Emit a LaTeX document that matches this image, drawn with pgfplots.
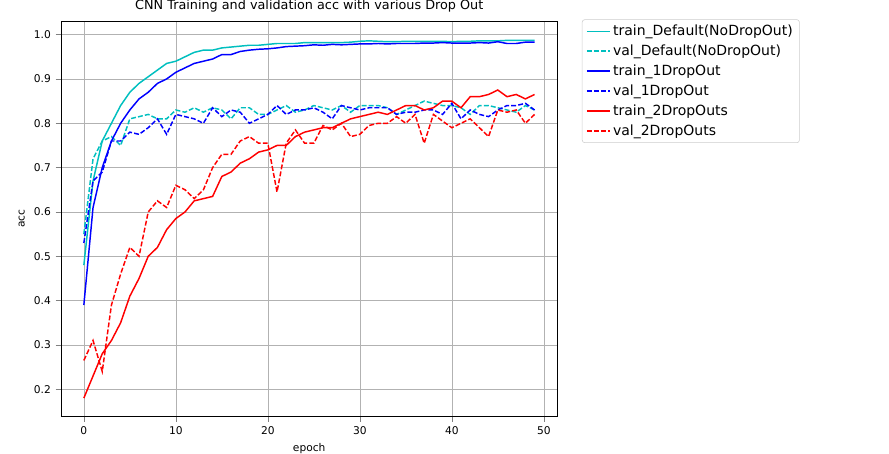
\documentclass[border=0pt]{standalone}
\usepackage{pgfplots}
\pgfplotsset{compat=1.18}
\usepackage{fontspec}
\setmainfont{DejaVu Sans}
\setsansfont{DejaVu Sans}
\definecolor{mc}{rgb}{0,0.75,0.75}
\tikzset{ds/.style={line width=1.1pt, dash pattern=on 3.7pt off 1.6pt}, sl/.style={line width=1.1pt}}
\begin{document}
\begin{tikzpicture}
\useasboundingbox (-46pt,-28pt) rectangle (621pt,312pt);
\begin{axis}[scale only axis, width=372pt, height=296pt,
xmin=-2.45, xmax=51.45, ymin=0.14, ymax=1.03,
xtick={0,10,20,30,40,50}, ytick={0.2,0.3,0.4,0.5,0.6,0.7,0.8,0.9,1.0},
yticklabel style={/pgf/number format/.cd,fixed,fixed zerofill,precision=1},
/pgf/number format/assume math mode=true,
ticklabel style={font=\fontsize{8}{9}\selectfont},
grid=major, grid style={gray!60},
tick align=outside, tick pos=left,
title={CNN Training and validation acc with various Drop Out}, title style={font=\fontsize{9.6}{11}\selectfont, yshift=-3pt},
xlabel={epoch}, ylabel={acc}, label style={font=\fontsize{8}{9}\selectfont},
legend style={at={(1.05,1.005)}, anchor=north west, font=\fontsize{10.5}{13}\selectfont, draw=gray!40, rounded corners=2pt, row sep=1.5pt},
legend cell align=left]
\addplot[mc, sl, mark=none] coordinates {(0,0.48)(1,0.67)(2,0.76)(3,0.80)(4,0.84)(5,0.87)(6,0.89)(7,0.905)(8,0.92)(9,0.935)(10,0.94)(11,0.95)(12,0.96)(13,0.965)(14,0.965)(15,0.97)(16,0.972)(17,0.974)(18,0.976)(19,0.976)(20,0.978)(21,0.98)(22,0.98)(23,0.98)(24,0.982)(25,0.982)(26,0.982)(27,0.982)(28,0.982)(29,0.983)(30,0.985)(31,0.986)(32,0.985)(33,0.984)(34,0.984)(35,0.985)(36,0.985)(37,0.985)(38,0.985)(39,0.985)(40,0.984)(41,0.985)(42,0.985)(43,0.986)(44,0.986)(45,0.986)(46,0.987)(47,0.987)(48,0.987)(49,0.987)};
\addlegendentry{train\_Default(NoDropOut)}
\addplot[mc, ds, mark=none] coordinates {(0,0.55)(1,0.72)(2,0.76)(3,0.77)(4,0.75)(5,0.81)(6,0.815)(7,0.82)(8,0.81)(9,0.81)(10,0.83)(11,0.825)(12,0.835)(13,0.825)(14,0.835)(15,0.83)(16,0.81)(17,0.835)(18,0.835)(19,0.82)(20,0.82)(21,0.83)(22,0.84)(23,0.825)(24,0.83)(25,0.84)(26,0.835)(27,0.83)(28,0.84)(29,0.825)(30,0.84)(31,0.84)(32,0.84)(33,0.835)(34,0.82)(35,0.83)(36,0.84)(37,0.85)(38,0.845)(39,0.84)(40,0.84)(41,0.835)(42,0.82)(43,0.84)(44,0.84)(45,0.835)(46,0.83)(47,0.825)(48,0.84)(49,0.83)};
\addlegendentry{val\_Default(NoDropOut)}
\addplot[blue, sl, mark=none] coordinates {(0,0.39)(1,0.61)(2,0.70)(3,0.76)(4,0.80)(5,0.83)(6,0.855)(7,0.87)(8,0.89)(9,0.90)(10,0.915)(11,0.925)(12,0.935)(13,0.94)(14,0.945)(15,0.955)(16,0.955)(17,0.962)(18,0.965)(19,0.967)(20,0.968)(21,0.97)(22,0.973)(23,0.974)(24,0.975)(25,0.977)(26,0.976)(27,0.978)(28,0.977)(29,0.978)(30,0.979)(31,0.979)(32,0.98)(33,0.979)(34,0.98)(35,0.98)(36,0.98)(37,0.981)(38,0.981)(39,0.982)(40,0.981)(41,0.981)(42,0.981)(43,0.982)(44,0.981)(45,0.984)(46,0.98)(47,0.98)(48,0.983)(49,0.983)};
\addlegendentry{train\_1DropOut}
\addplot[blue, ds, mark=none] coordinates {(0,0.53)(1,0.67)(2,0.69)(3,0.76)(4,0.76)(5,0.78)(6,0.775)(7,0.79)(8,0.81)(9,0.775)(10,0.82)(11,0.815)(12,0.81)(13,0.80)(14,0.835)(15,0.815)(16,0.83)(17,0.825)(18,0.80)(19,0.81)(20,0.82)(21,0.84)(22,0.82)(23,0.83)(24,0.83)(25,0.835)(26,0.825)(27,0.81)(28,0.84)(29,0.835)(30,0.83)(31,0.835)(32,0.835)(33,0.835)(34,0.82)(35,0.825)(36,0.825)(37,0.83)(38,0.83)(39,0.82)(40,0.845)(41,0.81)(42,0.83)(43,0.82)(44,0.815)(45,0.83)(46,0.84)(47,0.84)(48,0.845)(49,0.83)};
\addlegendentry{val\_1DropOut}
\addplot[red, sl, mark=none] coordinates {(0,0.18)(1,0.23)(2,0.28)(3,0.31)(4,0.35)(5,0.41)(6,0.45)(7,0.50)(8,0.52)(9,0.56)(10,0.585)(11,0.60)(12,0.625)(13,0.63)(14,0.635)(15,0.68)(16,0.69)(17,0.71)(18,0.72)(19,0.735)(20,0.74)(21,0.75)(22,0.75)(23,0.77)(24,0.78)(25,0.785)(26,0.79)(27,0.79)(28,0.80)(29,0.81)(30,0.815)(31,0.82)(32,0.825)(33,0.82)(34,0.83)(35,0.84)(36,0.84)(37,0.83)(38,0.835)(39,0.85)(40,0.85)(41,0.835)(42,0.86)(43,0.86)(44,0.865)(45,0.875)(46,0.86)(47,0.865)(48,0.855)(49,0.865)};
\addlegendentry{train\_2DropOuts}
\addplot[red, ds, mark=none] coordinates {(0,0.265)(1,0.31)(2,0.24)(3,0.39)(4,0.46)(5,0.52)(6,0.50)(7,0.60)(8,0.625)(9,0.61)(10,0.66)(11,0.65)(12,0.63)(13,0.65)(14,0.70)(15,0.73)(16,0.73)(17,0.76)(18,0.77)(19,0.755)(20,0.755)(21,0.645)(22,0.755)(23,0.785)(24,0.755)(25,0.755)(26,0.795)(27,0.785)(28,0.80)(29,0.77)(30,0.775)(31,0.795)(32,0.80)(33,0.80)(34,0.815)(35,0.80)(36,0.82)(37,0.755)(38,0.82)(39,0.805)(40,0.79)(41,0.80)(42,0.81)(43,0.79)(44,0.77)(45,0.83)(46,0.825)(47,0.83)(48,0.80)(49,0.82)};
\addlegendentry{val\_2DropOuts}
\end{axis}
\end{tikzpicture}
\end{document}
